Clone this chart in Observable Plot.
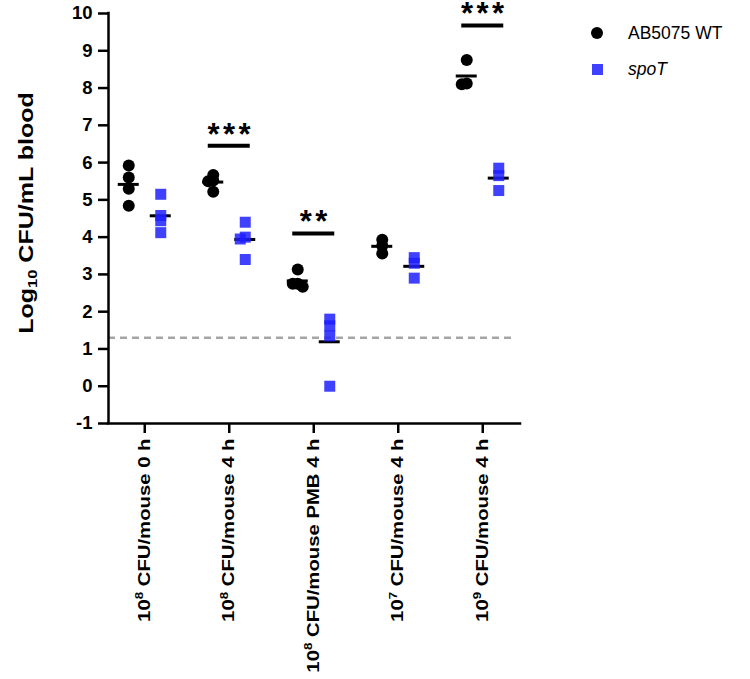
<!DOCTYPE html>
<html><head><meta charset="utf-8">
<script src="https://cdn.jsdelivr.net/npm/d3@7"></script>
<script src="https://cdn.jsdelivr.net/npm/@observablehq/plot@0.6"></script>
<style>
body{margin:0;background:#fff;font-family:Arial,"Liberation Sans",Helvetica,sans-serif;}
#wrap{position:relative;width:750px;height:679px;}
.leg{position:absolute;left:628px;font-size:17.5px;line-height:20px;color:#000;}
.sym{position:absolute;}
</style></head><body><div id="wrap"></div>
<script>
// ---- data ----
const categories = ["10^8 CFU/mouse 0 h","10^8 CFU/mouse 4 h","10^8 CFU/mouse PMB 4 h","10^7 CFU/mouse 4 h","10^9 CFU/mouse 4 h"];
const seriesNames = ["AB5075 WT","spoT"];
const wtValues = [[5.92,5.6,5.3,4.84],[5.67,5.52,5.5,5.22],[3.13,2.75,2.75,2.67],[3.93,3.77,3.56],[8.75,8.1,8.12]];
const spoTValues = [[5.15,4.58,4.44,4.12],[4.4,4.0,3.95,3.4],[1.8,1.62,1.35,0],[3.45,3.3,2.9],[5.85,5.65,5.25]];
const sigCategories = [1,2,4];
const sigHeights = [6.45,4.1,9.68];
const sigLabels = ["***","**","***"];
const detectionLimit = 1.3;
const yTicks = d3.range(-1, 11);

// ---- layout ----
const FONT = 'Arial, "Liberation Sans", Helvetica, sans-serif';
const PX_PER_CAT = 84.5;
const PX_PER_LOG = (423 - 13) / 11;
const X_DOMAIN = [(108 - 144.25) / PX_PER_CAT, (520 - 144.25) / PX_PER_CAT];
const seriesOffsetPx = {"AB5075 WT": -16, "spoT": 16};
const BLUE = "#1e1eff";

function spread(values) {
  const order = values.map((v, i) => i).sort((a, b) => values[b] - values[a]);
  const placed = [], out = values.map(() => 0);
  for (const i of order) {
    for (const c of [0, -5, 5, -10, 10]) {
      if (placed.every(p => Math.hypot(c - p.c, (values[i] - p.v) * PX_PER_LOG) >= 5)) {
        out[i] = c; placed.push({c, v: values[i]}); break;
      }
    }
  }
  return out;
}

const rows = [], meanRows = [];
[wtValues, spoTValues].forEach((group, si) => {
  const s = seriesNames[si];
  group.forEach((vals, ci) => {
    const off = spread(vals);
    vals.forEach((v, k) => rows.push({cat: ci, series: s, value: v,
      x: ci + (seriesOffsetPx[s] + off[k]) / PX_PER_CAT}));
    const c = ci + seriesOffsetPx[s] / PX_PER_CAT;
    meanRows.push({cat: ci, series: s, mean: d3.mean(vals),
      x1: c - 10.5 / PX_PER_CAT, x2: c + 10.5 / PX_PER_CAT});
  });
});
const sigRows = sigCategories.map((c, i) => ({cat: c, height: sigHeights[i], label: sigLabels[i],
  x1: c - 21 / PX_PER_CAT, x2: c + 21 / PX_PER_CAT}));

const plot = Plot.plot({
  width: 750, height: 679,
  marginLeft: 108, marginRight: 230, marginTop: 13, marginBottom: 256,
  style: {fontFamily: FONT, fontWeight: "bold", color: "black", background: "white"},
  x: {domain: X_DOMAIN, axis: null},
  y: {domain: [-1, 10], axis: null},
  marks: [
    Plot.ruleY([detectionLimit], {stroke: "#a5a5a5", strokeWidth: 2.5, strokeDasharray: "7,5", insetRight: 7}),
    Plot.axisY({ticks: yTicks, tickFormat: d => String(d), tickSize: 10, tickPadding: 6, fontSize: 18.5, strokeWidth: 2.5, label: null}),
    Plot.axisX({ticks: d3.range(categories.length), tickFormat: i => categories[i], tickRotate: -90, tickSize: 10, tickPadding: 5, fontSize: 16, strokeWidth: 2.5, label: null}),
    Plot.ruleY([-1], {strokeWidth: 2.5, strokeLinecap: "square"}),
    Plot.ruleX([X_DOMAIN[0]], {y1: -1, y2: 10, strokeWidth: 2.5, strokeLinecap: "square"}),
    Plot.dot(rows.filter(d => d.series === "AB5075 WT"), {x: "x", y: "value", r: 6, fill: "black"}),
    Plot.ruleY(meanRows, {x1: "x1", x2: "x2", y: "mean", strokeWidth: 3, stroke: "black"}),
    Plot.dot(rows.filter(d => d.series === "spoT"), {x: "x", y: "value", r: 6.2, symbol: "square", fill: BLUE, fillOpacity: 0.85}),
    Plot.ruleY(sigRows, {x1: "x1", x2: "x2", y: "height", strokeWidth: 4, stroke: "black"}),
    Plot.text(sigRows, {x: "cat", y: "height", text: "label", fontSize: 31, dy: -11, dx: 1.5, fill: "black"})
  ]
});

const wrap = document.getElementById("wrap");
wrap.appendChild(plot);
const svg = d3.select(plot);

// letter spacing for stars
svg.selectAll('g[aria-label="text"] text').attr("letter-spacing", 3.5);

// x tick labels: superscripts + stretch along text
const K = 1.27;
svg.selectAll('g[aria-label="x-axis tick label"] text').each(function() {
  const el = d3.select(this);
  const s = el.text();
  const m = s.match(/^(\d+)\^(\d+)(.*)$/);
  if (m) {
    el.text(null);
    el.append("tspan").text(m[1]);
    el.append("tspan").attr("font-size", 10.5).attr("dy", -6.5).text(m[2]);
    el.append("tspan").attr("dy", 6.5).text(m[3]);
  }
  const tr = el.attr("transform") || "";
  el.attr("transform", tr + ` scale(${K},1)`);
});

// y title
const t = svg.append("text")
  .attr("transform", "translate(33,213) rotate(-90) scale(1.22,1)")
  .attr("text-anchor", "middle").attr("font-size", 20.5).attr("font-weight", "bold")
  .attr("font-family", FONT).attr("fill", "black");
t.append("tspan").text("Log");
t.append("tspan").attr("font-size", 13.5).attr("dy", 4).text("10");
t.append("tspan").attr("dy", -4).text(" CFU/mL blood");

// legend
const legend = [
  {name: seriesNames[0], cy: 33, html: '<div class="sym" style="left:591px;top:27px;width:12px;height:12px;border-radius:50%;background:#000"></div>', italic: false},
  {name: seriesNames[1], cy: 69, html: `<div class="sym" style="left:591.5px;top:63.5px;width:11px;height:11px;background:${BLUE};opacity:0.85"></div>`, italic: true}
];
for (const l of legend) {
  wrap.insertAdjacentHTML("beforeend", l.html);
  const d = document.createElement("div");
  d.className = "leg";
  d.style.top = (l.cy - 10) + "px";
  d.style.fontStyle = l.italic ? "italic" : "normal";
  d.textContent = l.name;
  wrap.appendChild(d);
}
</script>
</body></html>
